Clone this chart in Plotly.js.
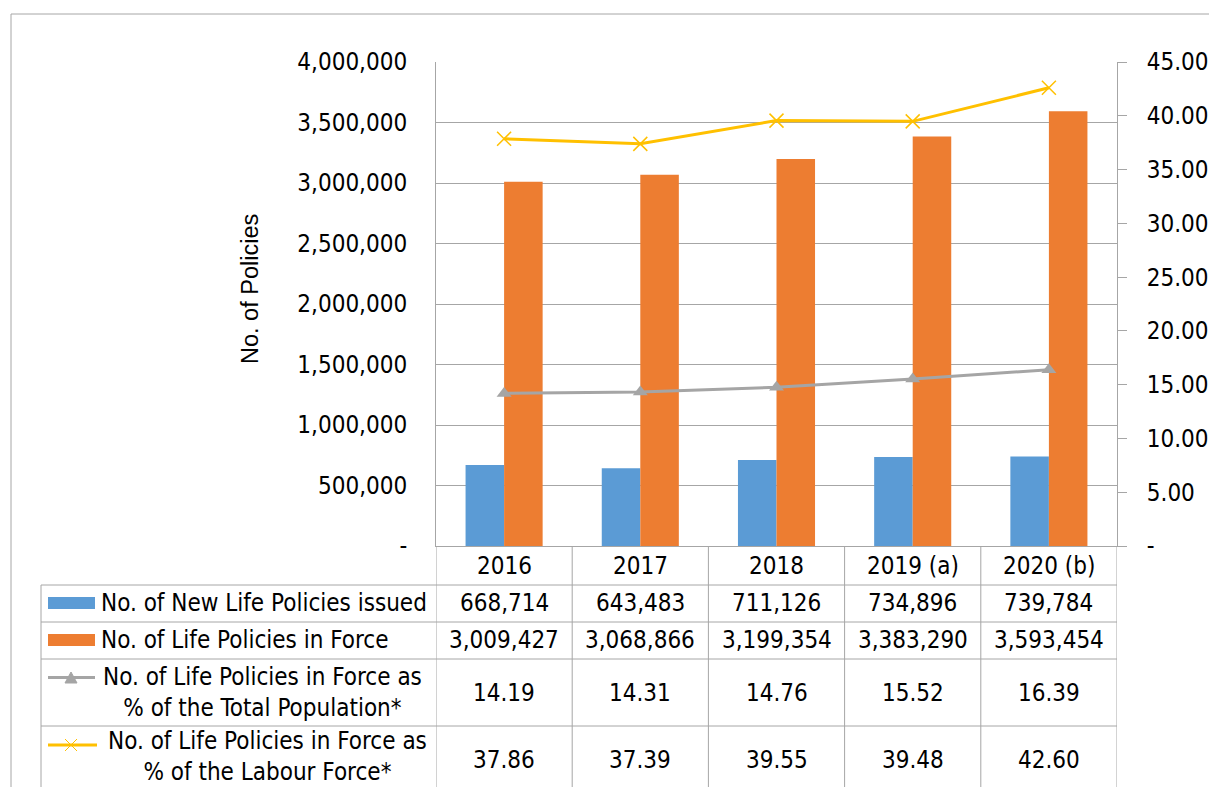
<!DOCTYPE html>
<html>
<head>
<meta charset="utf-8">
<script src="https://cdn.plot.ly/plotly-3.0.1.min.js"></script>
<style>html,body{margin:0;padding:0;background:#fff;}#chart{width:1209px;height:787px;}</style>
</head>
<body>
<div id="chart"></div>
<script>
// ---- data ----
const categories = ["2016", "2017", "2018", "2019 (a)", "2020 (b)"];
const newPolicies = [668714, 643483, 711126, 734896, 739784];
const policiesInForce = [3009427, 3068866, 3199354, 3383290, 3593454];
const pctPopulation = [14.19, 14.31, 14.76, 15.52, 16.39];
const pctLabour = [37.86, 37.39, 39.55, 39.48, 42.60];
const seriesNames = [
  "No. of New Life Policies issued",
  "No. of Life Policies in Force",
  "No. of Life Policies in Force as<br>% of the Total Population*",
  "No. of Life Policies in Force as<br>% of the Labour Force*"
];
const leftTickVals = [0, 500000, 1000000, 1500000, 2000000, 2500000, 3000000, 3500000, 4000000];
const leftTickText = ["-", "500,000", "1,000,000", "1,500,000", "2,000,000", "2,500,000", "3,000,000", "3,500,000", "4,000,000"];
const rightTickVals = [0, 5, 10, 15, 20, 25, 30, 35, 40, 45];
const rightTickText = ["-", "5.00", "10.00", "15.00", "20.00", "25.00", "30.00", "35.00", "40.00", "45.00"];
const yTitle = "No. of Policies";

// ---- layout helpers (pixel -> paper) ----
const W = 1209, H = 787;
const PL = 436, PR = 1117, PT = 62, PB = 546;
const px = x => (x - PL) / (PR - PL);
const py = y => (PB - y) / (PB - PT);

const FONT = "DejaVu Sans Condensed, DejaVu Sans, sans-serif";
const FS = 24;
const GRID = "#a6a6a6";
const BLUE = "#5B9BD5", ORANGE = "#ED7D31", GREY = "#A5A5A5", YELLOW = "#FFC000";

const traces = [
  {type: "bar", x: categories, y: newPolicies, name: seriesNames[0], marker: {color: BLUE}, hoverinfo: "x+y"},
  {type: "bar", x: categories, y: policiesInForce, name: seriesNames[1], marker: {color: ORANGE}, hoverinfo: "x+y"},
  {type: "scatter", mode: "lines+markers", x: categories, y: pctPopulation, yaxis: "y2", name: seriesNames[2],
   line: {color: GREY, width: 3}, marker: {symbol: "triangle-up", size: 13, color: GREY}},
  {type: "scatter", mode: "lines+markers", x: categories, y: pctLabour, yaxis: "y2", name: seriesNames[3],
   line: {color: YELLOW, width: 3}, marker: {symbol: "x-thin-open", size: 14, color: YELLOW, line: {color: YELLOW, width: 1.5}}}
];

// table geometry (pixels)
const rowLines = [585, 622, 659, 726, 793];
const rowCenters = [603, 640, 692.5, 759.5];
const labelCenters = [603, 640, 692.5, 756];
const headerCenter = 565.5;

const shapes = [];
const annotations = [];
const line = (x0, y0, x1, y1, xref, color, width) => ({type: "line", xref: xref || "paper", yref: "paper",
  x0: x0, y0: y0, x1: x1, y1: y1, line: {color: color || GRID, width: width || 1}, layer: "above"});

// outer border
shapes.push(line(px(11), py(14), px(1215), py(14)));
shapes.push(line(px(11), py(14), px(11), py(800)));

// vertical table lines at category boundaries
for (let i = 0; i <= categories.length; i++) {
  shapes.push(line(i - 0.5, py(PB), i - 0.5, py(800), "x"));
}
// left border of label column
shapes.push(line(px(41), py(585), px(41), py(800)));
// horizontal row lines
rowLines.forEach(y => shapes.push(line(px(41), py(y), px(PR), py(y))));

// legend keys
shapes.push({type: "rect", xref: "paper", yref: "paper", x0: px(48), x1: px(95), y0: py(609), y1: py(597),
  fillcolor: BLUE, line: {width: 0}});
shapes.push({type: "rect", xref: "paper", yref: "paper", x0: px(48), x1: px(95), y0: py(646), y1: py(634),
  fillcolor: ORANGE, line: {width: 0}});
shapes.push(line(px(48), py(677.5), px(95), py(677.5), "paper", GREY, 3));
shapes.push({type: "path", xref: "paper", yref: "paper",
  path: `M ${px(65)} ${py(683)} L ${px(77)} ${py(683)} L ${px(71)} ${py(672)} Z`,
  fillcolor: GREY, line: {color: GREY, width: 1}});
shapes.push(line(px(48), py(745), px(97), py(745), "paper", YELLOW, 3));
shapes.push(line(px(65), py(739), px(77), py(751), "paper", YELLOW, 1));
shapes.push(line(px(65), py(751), px(77), py(739), "paper", YELLOW, 1));

const txt = {family: FONT, size: FS, color: "#000"};
// y-axis title
annotations.push({xref: "paper", yref: "paper", x: px(250), y: py(289), text: yTitle, textangle: -90,
  showarrow: false, font: {family: "Liberation Sans, Arial, sans-serif", size: 23.5, color: "#000"},
  xanchor: "center", yanchor: "middle"});
// header labels
categories.forEach((c, i) => annotations.push({xref: "x", yref: "paper", x: i, y: py(headerCenter),
  text: c, showarrow: false, font: txt, xanchor: "center", yanchor: "middle"}));
// values
const fmtInt = v => v.toLocaleString("en-US");
const fmtPct = v => v.toFixed(2);
const rowsVals = [newPolicies.map(fmtInt), policiesInForce.map(fmtInt), pctPopulation.map(fmtPct), pctLabour.map(fmtPct)];
rowsVals.forEach((vals, r) => vals.forEach((v, i) => annotations.push({xref: "x", yref: "paper", x: i, y: py(rowCenters[r]),
  text: v, showarrow: false, font: txt, xanchor: "center", yanchor: "middle"})));
// series labels
annotations.push({xref: "paper", yref: "paper", x: px(99), y: py(labelCenters[0]), text: seriesNames[0],
  showarrow: false, font: txt, xanchor: "left", yanchor: "middle"});
annotations.push({xref: "paper", yref: "paper", x: px(99), y: py(labelCenters[1]), text: seriesNames[1],
  showarrow: false, font: txt, xanchor: "left", yanchor: "middle"});
annotations.push({xref: "paper", yref: "paper", x: px(262), y: py(labelCenters[2]), text: seriesNames[2],
  showarrow: false, font: txt, xanchor: "center", yanchor: "middle", align: "center"});
annotations.push({xref: "paper", yref: "paper", x: px(267), y: py(labelCenters[3]), text: seriesNames[3],
  showarrow: false, font: txt, xanchor: "center", yanchor: "middle", align: "center", borderpad: 0});

const layout = {
  width: W, height: H,
  margin: {l: PL, r: W - PR, t: PT, b: H - PB, pad: 0},
  paper_bgcolor: "#fff", plot_bgcolor: "#fff",
  showlegend: false,
  barmode: "group", bargap: 0.434, bargroupgap: 0,
  font: {family: FONT, size: FS, color: "#000"},
  xaxis: {type: "category", range: [-0.5, 4.5], showticklabels: false, ticks: "", showgrid: false,
    showline: true, linecolor: GRID, linewidth: 1, fixedrange: true},
  yaxis: {range: [0, 4000000], tickvals: leftTickVals, ticktext: leftTickText, showgrid: true, gridcolor: GRID, gridwidth: 1,
    zeroline: false, showline: true, linecolor: GRID, linewidth: 1, ticks: "", ticklabelstandoff: 23,
    tickfont: {family: FONT, size: FS, color: "#000"}},
  yaxis2: {overlaying: "y", side: "right", range: [0, 45], tickvals: rightTickVals, ticktext: rightTickText,
    showgrid: false, zeroline: false, showline: true, linecolor: GRID, linewidth: 1,
    ticks: "outside", ticklen: 9, tickcolor: GRID, tickwidth: 1, ticklabelstandoff: 15,
    tickfont: {family: FONT, size: FS, color: "#000"}},
  shapes: shapes,
  annotations: annotations
};

Plotly.newPlot("chart", traces, layout, {displayModeBar: false, staticPlot: true});
</script>
</body>
</html>
